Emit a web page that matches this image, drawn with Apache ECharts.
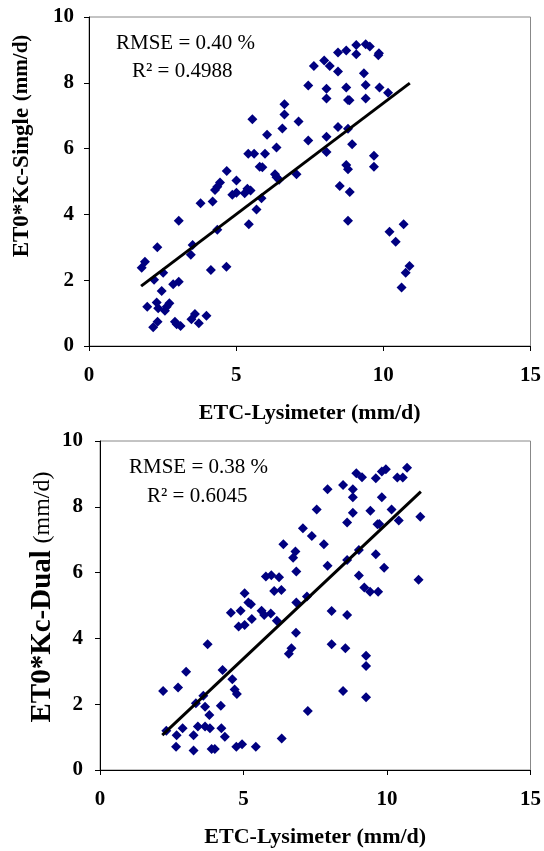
<!DOCTYPE html>
<html>
<head>
<meta charset="utf-8">
<script src="https://cdn.jsdelivr.net/npm/echarts@6/dist/echarts.min.js"></script>
<style>
  html, body { margin: 0; padding: 0; background: #fff; }
  #chart { width: 544px; height: 851px; }
</style>
</head>
<body>
<div id="chart"></div>
<script>
// ETC-Lysimeter vs ET0*Kc (single)
const singleX = [7.64, 7.45, 6.64, 6.64, 5.55, 7.12, 6.57, 6.05, 7.45, 6.37, 5.41, 5.61, 5.98, 5.80, 5.89, 6.32, 6.37, 7.05, 4.68, 5.01,
  4.45, 4.36, 4.28, 4.87, 5.38, 5.49, 5.29, 5.01, 5.86, 6.46, 3.79, 4.20, 5.69, 5.43, 3.05, 4.36, 3.52, 3.46, 2.32, 1.90,
  1.79, 2.52, 4.14, 4.67, 2.21, 2.86, 3.05, 2.47, 1.98, 2.30, 2.35, 2.64, 2.73, 2.58, 2.33, 2.18, 2.92, 3.11, 2.98, 3.48,
  3.60, 3.73, 3.99, 9.08, 9.40, 9.54, 8.46, 8.74, 9.08, 9.85, 9.83, 7.99, 8.18, 8.46, 9.34, 8.07, 8.74, 9.40, 9.87, 10.16,
  8.07, 8.80, 8.85, 9.40, 8.46, 8.80, 8.07, 8.07, 8.94, 9.68, 9.68, 8.74, 8.80, 8.52, 8.86, 8.80, 10.21, 10.69, 10.42, 10.89,
  10.76, 10.62];
const singleY = [8.51, 7.92, 7.35, 7.04, 6.89, 6.82, 6.61, 6.42, 6.25, 6.03, 5.84, 5.84, 5.84, 5.45, 5.43, 5.22, 5.13, 5.22, 5.32, 5.03,
  4.97, 4.84, 4.74, 4.60, 4.78, 4.73, 4.64, 4.66, 4.49, 5.05, 4.34, 4.39, 4.15, 3.70, 3.81, 3.53, 3.07, 2.77, 3.00, 2.56,
  2.38, 2.23, 2.31, 2.41, 2.01, 1.88, 1.95, 1.67, 1.19, 1.32, 1.15, 1.19, 1.30, 1.07, 0.74, 0.57, 0.74, 0.61, 0.66, 0.81,
  0.97, 0.69, 0.92, 9.15, 9.17, 9.10, 8.92, 8.98, 8.87, 8.90, 8.84, 8.68, 8.51, 8.34, 8.29, 7.82, 7.86, 7.93, 7.86, 7.70,
  7.52, 7.48, 7.47, 7.52, 6.66, 6.60, 6.36, 5.90, 6.13, 5.78, 5.45, 5.50, 5.37, 4.86, 4.68, 3.81, 3.47, 3.70, 3.17, 2.43,
  2.23, 1.78];
const singleFitX = [1.77, 10.9];
const singleFitY = [1.82, 7.99];

// ETC-Lysimeter vs ET0*Kc (dual)
const dualX = [7.55, 7.07, 7.38, 6.39, 6.81, 6.73, 6.84, 5.78, 5.97, 6.24, 6.07, 6.32, 5.04, 5.17, 5.26, 4.56, 4.90, 5.63, 5.72, 5.95,
  6.84, 7.21, 10.70, 9.96, 9.82, 8.93, 9.13, 9.61, 10.36, 10.55, 7.93, 8.47, 8.81, 8.81, 9.82, 8.81, 9.42, 10.16, 10.41, 11.16,
  8.61, 9.67, 9.73, 7.80, 9.02, 9.61, 8.61, 7.93, 9.90, 9.02, 9.21, 9.41, 9.69, 11.10, 8.07, 8.61, 8.07, 8.55, 9.27, 9.27,
  8.47, 9.27, 7.24, 6.83, 5.29, 6.16, 4.83, 5.04, 6.67, 6.58, 3.75, 4.27, 4.61, 4.69, 4.77, 3.00, 2.20, 2.72, 3.60, 3.34,
  3.66, 4.21, 3.81, 2.31, 2.88, 3.41, 3.66, 3.83, 4.23, 2.67, 3.26, 4.35, 2.65, 3.26, 3.89, 4.00, 4.75, 4.95, 5.43, 6.33];
const dualY = [7.92, 7.35, 7.11, 6.86, 6.64, 6.45, 6.03, 5.88, 5.92, 5.86, 5.44, 5.47, 5.37, 5.09, 5.04, 4.78, 4.84, 4.84, 4.71, 4.76,
  5.09, 5.27, 9.19, 9.14, 9.07, 9.02, 8.90, 8.87, 8.89, 8.89, 8.53, 8.66, 8.53, 8.29, 8.29, 7.82, 7.88, 7.92, 7.58, 7.70,
  7.52, 7.47, 7.48, 6.86, 6.69, 6.56, 6.38, 6.21, 6.15, 5.91, 5.55, 5.42, 5.42, 5.78, 4.83, 4.71, 3.82, 3.70, 3.47, 3.16,
  2.40, 2.21, 1.79, 4.17, 4.59, 4.54, 4.36, 4.41, 3.70, 3.53, 3.82, 3.04, 2.76, 2.45, 2.31, 2.99, 2.40, 2.51, 2.26, 2.03,
  1.92, 1.95, 1.67, 1.19, 1.27, 1.32, 1.32, 1.27, 1.27, 1.06, 1.06, 1.01, 0.71, 0.59, 0.64, 0.64, 0.71, 0.78, 0.71, 0.96];
const dualFitX = [2.17, 11.18];
const dualFitY = [1.06, 8.46];

const xRange = [0, 15];
const yRange = [0, 10];
const xName = 'ETC-Lysimeter (mm/d)';
const singleYName = ['ET0*Kc-Single', '(mm/d)'];
const dualYName = ['ET0*Kc-Dual', '(mm/d)'];
const singleStats = ['RMSE = 0.40 %', 'R² = 0.4988'];
const dualStats = ['RMSE = 0.38 %', 'R² = 0.6045'];

const FONT = '"Liberation Serif", "Times New Roman", serif';
const zip = (xs, ys) => xs.map((x, i) => [x, ys[i]]);

const chart = echarts.init(document.getElementById('chart'));

function xAxisOf(gridIndex) {
  return {
    gridIndex, type: 'value', min: xRange[0], max: xRange[1], interval: 5,
    name: xName, nameLocation: 'middle', nameGap: 56,
    nameTextStyle: { fontFamily: FONT, fontWeight: 'bold', fontSize: 22, color: '#000' },
    axisLine: { show: true, onZero: false, lineStyle: { color: '#000', width: 1 } },
    axisTick: { show: true, inside: false, length: 5, lineStyle: { color: '#000' } },
    axisLabel: { margin: 19, fontFamily: FONT, fontWeight: 'bold', fontSize: 21, color: '#000' },
    splitLine: { show: false }
  };
}

function yAxisOf(gridIndex, margin) {
  return {
    gridIndex, type: 'value', min: yRange[0], max: yRange[1], interval: 2,
    axisLine: { show: true, onZero: false, lineStyle: { color: '#000', width: 1 } },
    axisTick: { show: true, inside: false, length: 5, lineStyle: { color: '#000' } },
    axisLabel: { margin, fontFamily: FONT, fontWeight: 'bold', fontSize: 21, color: '#000' },
    splitLine: { show: false }
  };
}

function scatterOf(i, xs, ys) {
  return {
    type: 'scatter', xAxisIndex: i, yAxisIndex: i, data: zip(xs, ys),
    symbol: 'diamond', symbolSize: 10,
    itemStyle: { color: '#000080', opacity: 1 }, silent: true, z: 2
  };
}

function fitOf(i, xs, ys) {
  return {
    type: 'line', xAxisIndex: i, yAxisIndex: i, data: zip(xs, ys),
    showSymbol: false, symbol: 'none', silent: true, z: 3,
    lineStyle: { color: '#000', width: 3 }
  };
}

function statText(left, top, txt) {
  return {
    type: 'text', x: left, y: top,
    style: { text: txt, fontFamily: FONT, fontSize: 21, fill: '#000',
      textAlign: 'left', align: 'left', textVerticalAlign: 'middle', verticalAlign: 'middle' }
  };
}

function yTitle(cx, cy, parts, mainSize, unitSize, unitWeight) {
  return {
    type: 'text', x: cx, y: cy, rotation: Math.PI / 2,
    style: {
      text: '{a|' + parts[0] + '}  {b|' + parts[1] + '}',
      textAlign: 'center', align: 'center', textVerticalAlign: 'middle', verticalAlign: 'middle',
      rich: {
        a: { fontFamily: FONT, fontWeight: 'bold', fontSize: mainSize, fill: '#000', color: '#000' },
        b: { fontFamily: FONT, fontWeight: unitWeight, fontSize: unitSize, fill: '#000', color: '#000' }
      }
    }
  };
}

chart.setOption({
  animation: false,
  backgroundColor: '#fff',
  grid: [
    { left: 89, top: 17, width: 442, height: 329, show: true, borderColor: '#888', borderWidth: 1 },
    { left: 100, top: 441, width: 437, height: 329, show: true, borderColor: '#888', borderWidth: 1 }
  ],
  xAxis: [xAxisOf(0), xAxisOf(1)],
  yAxis: [yAxisOf(0, 15), yAxisOf(1, 17)],
  series: [
    scatterOf(0, singleX, singleY),
    fitOf(0, singleFitX, singleFitY),
    scatterOf(1, dualX, dualY),
    fitOf(1, dualFitX, dualFitY)
  ],
  graphic: [
    statText(116, 43, singleStats[0]),
    statText(132, 71, singleStats[1]),
    statText(129, 467, dualStats[0]),
    statText(147, 496, dualStats[1]),
    yTitle(22, 146, singleYName, 23, 21, 'bold'),
    yTitle(43, 597, dualYName, 29, 24, 'normal')
  ]
});
</script>
</body>
</html>
